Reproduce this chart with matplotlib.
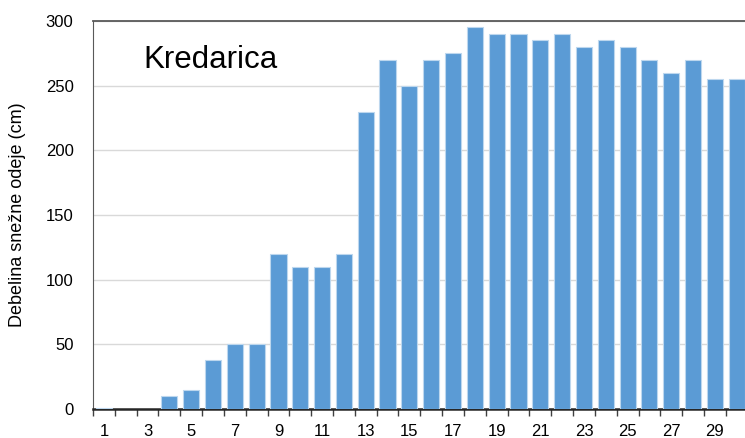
import matplotlib.pyplot as plt
from matplotlib.ticker import FixedLocator

plt.rcParams['font.family'] = ['Liberation Sans', 'DejaVu Sans']

# snow depth at Kredarica, by day
days = list(range(1, 31))
depth = [1, 0, 0, 10, 15, 38, 50, 50, 120, 110,
         110, 120, 230, 270, 250, 270, 275, 295, 290, 290,
         285, 290, 280, 285, 280, 270, 260, 270, 255, 255]
yticks = [0, 50, 100, 150, 200, 250, 300]

fig = plt.figure(figsize=(7.45, 4.38), dpi=100)
ax = fig.add_axes([93 / 745, 29 / 438, 654.6 / 745, 388 / 438])

# no outline on empty days
edge_w = [0.8 if d > 0 else 0 for d in depth]
ax.bar(days, depth, width=0.74, color='#5B9BD5', edgecolor='#BDD7EE',
       linewidth=edge_w, zorder=3)

ax.set_xlim(0.5, 30.5)
ax.set_ylim(0, 300)
ax.set_yticks(yticks)
ax.yaxis.grid(True, color='#D9D9D9', linewidth=1, zorder=0)
ax.tick_params(axis='y', length=0, labelsize=12, pad=14)

ax.set_xticks(days[::2])
ax.set_xticklabels([str(d) for d in days[::2]])
ax.xaxis.set_minor_locator(FixedLocator([d + 0.5 for d in range(0, 31)]))
ax.tick_params(axis='x', which='major', length=0, labelsize=12, pad=11)
ax.tick_params(axis='x', which='minor', length=5, width=1, color='#404040')

ax.spines['right'].set_visible(False)
ax.spines['left'].set_color('#595959')
ax.spines['top'].set_color('#595959')
ax.spines['top'].set_linewidth(1.3)
ax.spines['bottom'].set_color('#262626')
ax.spines['bottom'].set_linewidth(1.8)

ax.set_ylabel('Debelina snežne odeje (cm)', fontsize=13)
ax.yaxis.set_label_coords(-0.102, 0.5)
ax.text(0.077, 0.8995, 'Kredarica', transform=ax.transAxes, fontsize=22.5,
        va='center', ha='left')

fig.savefig('out.png', dpi=100)
